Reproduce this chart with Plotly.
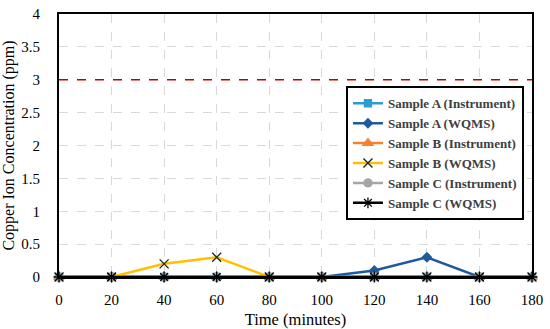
import plotly.graph_objects as go

time_min = [0, 20, 40, 60, 80, 100, 120, 140, 160, 180]
sample_a_instrument = [0, 0, 0, 0, 0, 0, 0, 0, 0, 0]
sample_a_wqms = [0, 0, 0, 0, 0, 0, 0.1, 0.3, 0, 0]
sample_b_instrument = [0, 0, 0, 0, 0, 0, 0, 0, 0, 0]
sample_b_wqms = [0, 0, 0.2, 0.3, 0, 0, 0, 0, 0, 0]
sample_c_instrument = [0, 0, 0, 0, 0, 0, 0, 0, 0, 0]
sample_c_wqms = [0, 0, 0, 0, 0, 0, 0, 0, 0, 0]
limit_ppm = 3

y_ticks = [0, 0.5, 1, 1.5, 2, 2.5, 3, 3.5, 4]
y_tick_labels = ["0", "0.5", "1", "1.5", "2", "2.5", "3", "3.5", "4"]

FONT = "Liberation Serif"

series = [
    ("Sample A (Instrument)", sample_a_instrument, "#2E9BD6", "square", 7, "#2E9BD6"),
    ("Sample A (WQMS)", sample_a_wqms, "#1F5A9E", "diamond", 7, "#1F5A9E"),
    ("Sample B (Instrument)", sample_b_instrument, "#F58231", "triangle-up", 9, "#F58231"),
    ("Sample B (WQMS)", sample_b_wqms, "#FFC000", "x-thin-open", 9, "#222222"),
    ("Sample C (Instrument)", sample_c_instrument, "#A5A5A5", "circle", 8, "#A5A5A5"),
    ("Sample C (WQMS)", sample_c_wqms, "#000000", "asterisk-open", 9, "#000000"),
]

fig = go.Figure()
for name, vals, color, sym, size, mcolor in series:
    fig.add_trace(go.Scatter(
        x=time_min, y=vals, name=name, mode="lines+markers",
        line=dict(color=color, width=2.5),
        marker=dict(symbol=sym, size=size, color=mcolor,
                    line=dict(color=mcolor, width=1.3)),
        cliponaxis=False,
    ))

fig.add_hline(y=limit_ppm, line=dict(color="#C00000", width=1.5, dash="dash"))

fig.update_layout(
    width=550, height=329,
    margin=dict(l=59, r=18, t=14, b=52),
    plot_bgcolor="white", paper_bgcolor="white",
    font=dict(family=FONT, color="#000000"),
    legend=dict(
        x=0.983, y=0.725, xanchor="right", yanchor="top",
        bgcolor="white", bordercolor="#000000", borderwidth=2,
        font=dict(size=13, family=FONT, color="#404040", weight="bold"),
        itemwidth=30, tracegroupgap=0,
    ),
    xaxis=dict(
        range=[0, 180], tickvals=time_min, ticktext=[str(t) for t in time_min],
        showgrid=True, gridcolor="#D9D9D9", griddash="dash", gridwidth=1,
        showline=True, linecolor="#000000", linewidth=2, mirror=True,
        zeroline=False, ticks="", ticklabelstandoff=8, automargin=False,
        tickfont=dict(size=15, family=FONT),
        title=dict(text="Time (minutes)", font=dict(size=16.5)),
    ),
    yaxis=dict(
        range=[0, 4], tickvals=y_ticks, ticktext=y_tick_labels,
        showgrid=True, gridcolor="#D9D9D9", griddash="dash", gridwidth=1,
        showline=True, linecolor="#000000", linewidth=2, mirror=True,
        zeroline=False, ticks="", ticklabelstandoff=14, automargin=False,
        tickfont=dict(size=15, family=FONT),
        title=dict(text="Copper Ion Concentration (ppm)", font=dict(size=16), standoff=10),
    ),
)

fig.write_html("out.html", config={"displayModeBar": False},
               post_script="document.body.style.margin='0';")
